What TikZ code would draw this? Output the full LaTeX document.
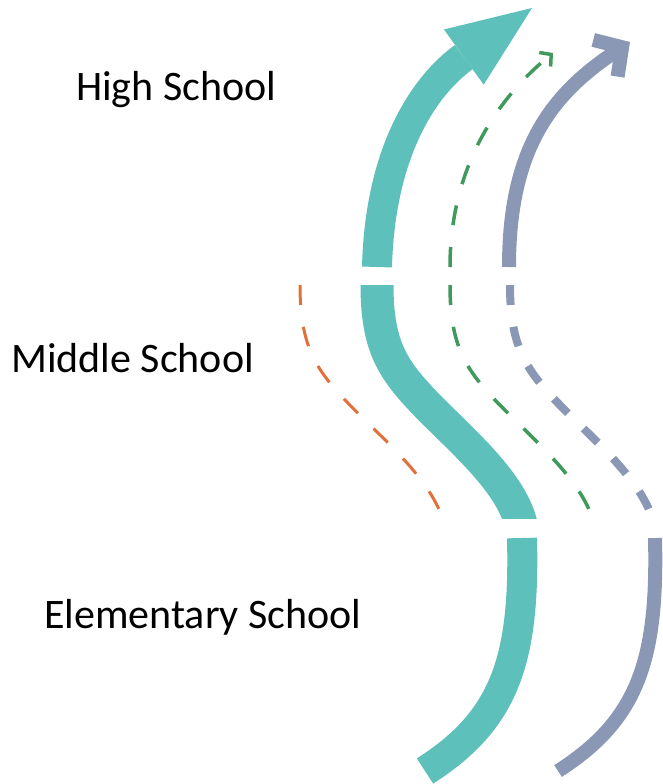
\documentclass[tikz,border=0pt]{standalone}
\usepackage{fontspec}
\setmainfont{Carlito}
\usetikzlibrary{arrows.meta}
\definecolor{pathteal}{RGB}{93,192,186}
\definecolor{pathgray}{RGB}{138,152,181}
\definecolor{pathgreen}{RGB}{64,154,92}
\definecolor{pathorange}{RGB}{226,112,58}

\begin{document}
\begin{tikzpicture}[x=1pt, y=-1pt,
  stage/.style={anchor=base west, inner sep=0pt, font=\fontsize{42}{50}\selectfont},
  tealpath/.style={draw=pathteal, line width=#1},
  graypath/.style={draw=pathgray, line width=#1},
  greendash/.style={draw=pathgreen, line width=3.5pt, dash pattern=on 20pt off 22pt},
  orangedash/.style={draw=pathorange, line width=3pt, dash pattern=on 20pt off 22pt},
  graydash/.style={draw=pathgray, line width=8pt, dash pattern=on 20pt off 22pt},
  tealmid/.style={tealpath=33pt}]
  \useasboundingbox (0,0) rectangle (662,784);
  % stage labels
  \node[stage] (high) at (76,100) {High School};
  \node[stage] (middle) at (11,372) {Middle School};
  \node[stage] (elementary) at (44,628) {Elementary School};
  % high school: arrows
  \draw[tealpath=30pt, -{Triangle[length=84pt,width=68pt,line width=0pt]}]
    (377,267) .. controls (380,150) and (425,85) .. (532,8);
  \draw[greendash, -{Straight Barb[length=8pt,width=18pt,sharp]}]
    (450,267) .. controls (450,170) and (495,100) .. (553,53);
  \draw[graypath=14pt, -{Straight Barb[length=20pt,width=44pt,sharp]}]
    (509,267) .. controls (509,150) and (550,95) .. (630,42);
  % middle school: same bend, shifted, cut at the band edge
  \begin{scope}
    \clip (0,285) rectangle (662,518);
    \foreach \dx/\sty in {0/orangedash, 77/tealmid, 150/greendash, 210/graydash}
      \draw[\sty, xshift=\dx] (300,285) .. controls (300,345) and (315,368) .. (345,400)
        .. controls (385,442) and (446,490) .. (446,540);
  \end{scope}
  % elementary school
  \draw[tealpath=30pt] (522,538) .. controls (525,660) and (505,720) .. (425,771);
  \draw[graypath=14pt, xshift=133] (522,538) .. controls (525,660) and (505,720) .. (425,771);
\end{tikzpicture}
\end{document}
